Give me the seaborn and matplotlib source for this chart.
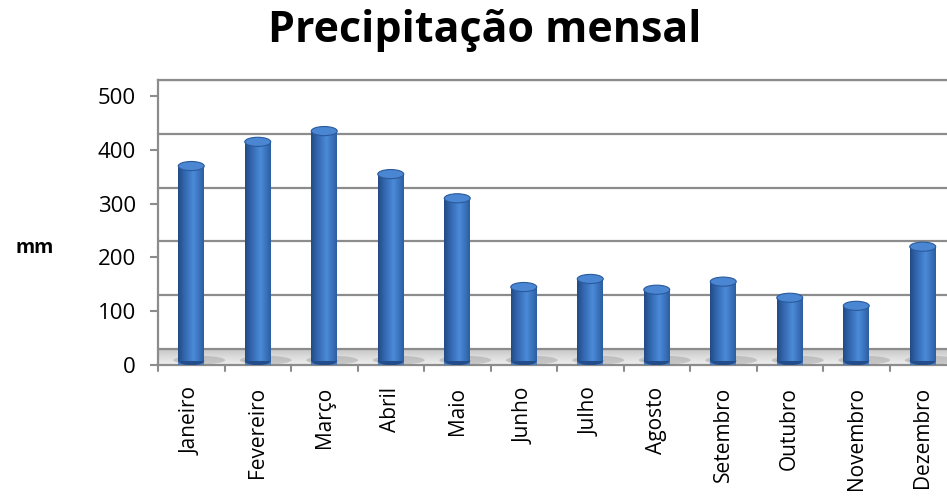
import numpy as np
import pandas as pd
import matplotlib
matplotlib.use("Agg")
import matplotlib.pyplot as plt
import seaborn as sns
from matplotlib.patches import Ellipse

meses = ["Janeiro", "Fevereiro", "Março", "Abril", "Maio", "Junho",
         "Julho", "Agosto", "Setembro", "Outubro", "Novembro", "Dezembro"]
precip = [370, 415, 435, 355, 310, 145, 160, 140, 155, 125, 110, 220]
yticks = [0, 100, 200, 300, 400, 500]

sns.set_style("white")
plt.rcParams['font.family'] = ['Open Sans', 'DejaVu Sans']

fig = plt.figure(figsize=(9.47, 5.04), dpi=100)
ax = fig.add_axes([158/947, (504-365)/504, 798/947, 285/504])

df = pd.DataFrame({"mes": meses, "mm": precip})
sns.barplot(data=df, x="mes", y="mm", color="#3B78C6", width=0.39,
            edgecolor="none", ax=ax, zorder=3)

ax.set_xlim(-0.5, 11.5)
ax.set_ylim(0, 530)

# back-wall gridlines (3D offset) and floor
off = 30
for t in yticks:
    ax.axhline(t + off, color="#8c8c8c", lw=1.6, zorder=1)
grad = np.linspace(0, 1, 50).reshape(-1, 1)
ax.imshow(grad, extent=(-0.5, 11.5, 0, off), aspect="auto", cmap="Greys",
          vmin=-0.6, vmax=4.0, origin="lower", zorder=0.5)

# cylinder shading
hgrad = np.concatenate([np.linspace(0.25, 1.0, 60), np.linspace(1.0, 0.45, 40)]).reshape(1, -1)
cmap = matplotlib.colors.LinearSegmentedColormap.from_list("cyl", ["#16325e", "#2f62a8", "#4b8ad8"])
for p in ax.patches:
    x0, w, h = p.get_x(), p.get_width(), p.get_height()
    # floor shadow
    ax.add_patch(Ellipse((x0 + w/2 + 0.12, 9), w * 2.0, 16, facecolor="#9a9a9a",
                         edgecolor="none", alpha=0.45, zorder=0.8))
    im = ax.imshow(hgrad, extent=(x0, x0 + w, 8, h), aspect="auto", cmap=cmap,
                   vmin=0, vmax=1, zorder=3.5)
    im.set_clip_path(p)
    ax.add_patch(Ellipse((x0 + w/2, h), w, 17, facecolor="#4a86d2", edgecolor="#2a5a9c",
                         lw=0.8, zorder=4))
    ax.add_patch(Ellipse((x0 + w/2, 8), w, 17, facecolor="#234d8a", edgecolor="none",
                         zorder=3.2))
ax.set_xlim(-0.5, 11.5)
ax.set_ylim(0, 530)

ax.set_yticks(yticks)
ax.set_yticklabels([str(v) for v in yticks], fontsize=16, color="#000000")
ax.set_xticks(range(12))
ax.set_xticklabels(meses, rotation=90, fontsize=15, color="#000000")
ax.tick_params(axis="x", length=0, pad=16)
ax.tick_params(axis="y", length=6, width=1.5, color="#8c8c8c", left=True, pad=10)
for b in np.arange(-0.5, 12, 1.0):
    ax.plot([b, b], [0, -12], color="#8c8c8c", lw=1.5, clip_on=False, zorder=5)

for s in ["left", "bottom", "top"]:
    ax.spines[s].set_color("#8c8c8c")
    ax.spines[s].set_linewidth(1.6)
ax.spines["right"].set_visible(False)
ax.set_xlabel("")
ax.set_ylabel("")

fig.text(35/947, 1 - 248/504, "mm", fontsize=14, fontweight="bold", ha="center", va="center",
         color="#000000")
fig.text(485/947, 1 - 30/504, "Precipitação mensal", fontsize=31, fontweight="bold",
         ha="center", va="center", color="#000000")

fig.savefig("out.png", dpi=100)
